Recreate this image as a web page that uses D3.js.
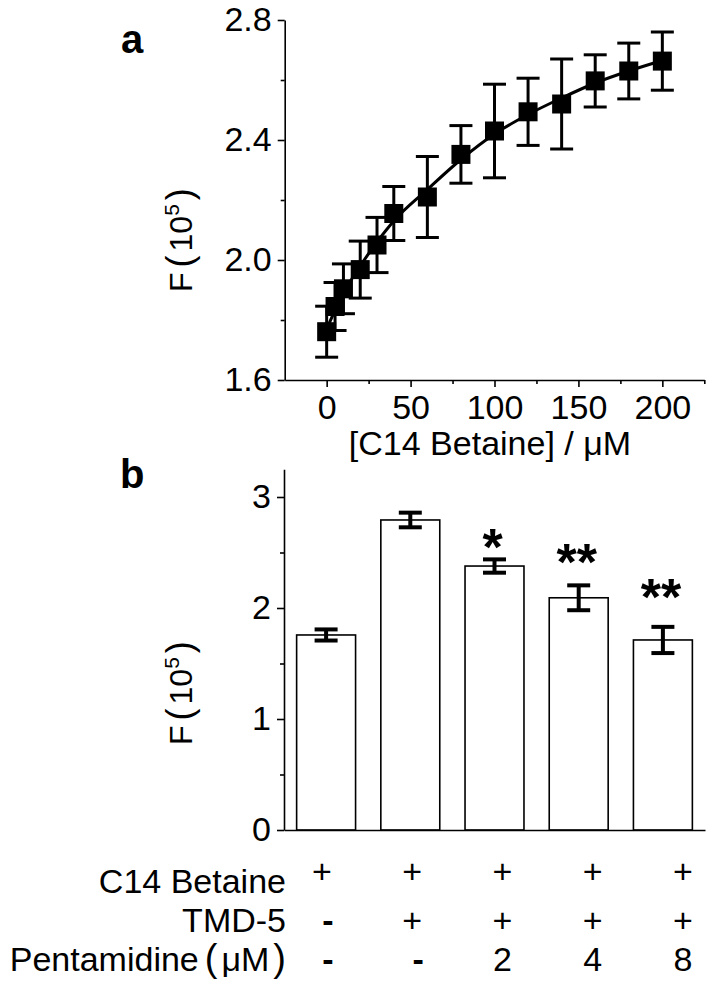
<!DOCTYPE html>
<html>
<head>
<meta charset="utf-8">
<script src="https://cdn.jsdelivr.net/npm/d3@7"></script>
<style>
  html, body { margin: 0; padding: 0; background: #fff; }
  svg { display: block; }
  text { font-family: "Liberation Sans", Arial, sans-serif; fill: #000; }
</style>
</head>
<body>
<svg id="chart" width="713" height="989"></svg>
<script>
// ---------- Panel a data ----------
const concX   = [0, 5, 10, 20, 30, 40, 60, 80, 100, 120, 140, 160, 180, 200];
const concF   = [1.761, 1.845, 1.904, 1.968, 2.05, 2.155, 2.21, 2.352, 2.43, 2.494, 2.52, 2.597, 2.63, 2.663];
const concErr = [0.085, 0.08, 0.083, 0.095, 0.092, 0.09, 0.135, 0.096, 0.156, 0.112, 0.15, 0.087, 0.093, 0.097];
const fitX    = [0, 10, 20, 30, 40, 60, 80, 100, 120, 140, 160, 180, 200];
const fitF    = [1.77, 1.89, 1.98, 2.06, 2.13, 2.235, 2.335, 2.42, 2.485, 2.54, 2.59, 2.63, 2.665];
const aMajorX = [0, 50, 100, 150, 200];
const aMinorX = [25, 75, 125, 175, 225];
const aMajorY = [1.6, 2.0, 2.4, 2.8];
const aMinorY = [1.8, 2.2, 2.6];

// ---------- Panel b data ----------
const groups  = ["G1", "G2", "G3", "G4", "G5"];
const barF    = [1.757, 2.793, 2.378, 2.092, 1.712];
const barErr  = [0.05, 0.066, 0.06, 0.112, 0.118];
const sigMark = ["", "", "*", "**", "**"];
const sigLevel = [null, null, 2.55, 2.414, 2.099];
const bMajorY = [0, 1, 2, 3];
const bMinorY = [0.5, 1.5, 2.5];

// ---------- Condition table ----------
const rowLabels = ["C14 Betaine", "TMD-5", "Pentamidine"];
const rowC14  = ["+", "+", "+", "+", "+"];
const rowTMD  = ["-", "+", "+", "+", "+"];
const rowPent = ["-", "-", "2", "4", "8"];

const svg = d3.select("#chart");
svg.append("rect").attr("width", 713).attr("height", 989).attr("fill", "#fff");

const FS = 34;

function styleAxis(g) {
  g.selectAll(".domain").attr("stroke", "#000").attr("stroke-width", 1.6);
  g.selectAll(".tick line").attr("stroke", "#000").attr("stroke-width", 1.6);
  g.selectAll(".tick text").style("font-size", FS + "px").attr("fill", "#000")
    .style("font-family", "'Liberation Sans', Arial, sans-serif");
}

// ================= Panel a =================
const xA = d3.scaleLinear().domain([-25, 225]).range([284.7, 704.3]);
const yA = d3.scaleLinear().domain([1.6, 2.8]).range([380, 20]);

const ga = svg.append("g");

ga.append("g").attr("transform", "translate(0,380)")
  .call(d3.axisBottom(xA).tickValues(aMinorX).tickSize(4).tickSizeOuter(0).tickFormat(""))
  .call(styleAxis);
ga.append("g").attr("transform", "translate(0,380)")
  .call(d3.axisBottom(xA).tickValues(aMajorX).tickSize(7).tickSizeOuter(0).tickPadding(8).tickFormat(d3.format("d")))
  .call(styleAxis)
  .call(g => g.select(".domain").remove());

ga.append("g").attr("transform", "translate(284.7,0)")
  .call(d3.axisLeft(yA).tickValues(aMinorY).tickSize(4).tickSizeOuter(0).tickFormat(""))
  .call(styleAxis);
ga.append("g").attr("transform", "translate(284.7,0)")
  .call(d3.axisLeft(yA).tickValues(aMajorY).tickSize(7).tickSizeOuter(0).tickPadding(6).tickFormat(d3.format(".1f")))
  .call(styleAxis)
  .call(g => g.select(".domain").remove());

// fit curve
const fitData = fitX.map((x, i) => [x, fitF[i]]);
ga.append("path")
  .datum(fitData)
  .attr("fill", "none").attr("stroke", "#000").attr("stroke-width", 3)
  .attr("d", d3.line().x(d => xA(d[0])).y(d => yA(d[1])).curve(d3.curveMonotoneX));

// error bars
const ptData = concX.map((x, i) => ({ x, y: concF[i], e: concErr[i] }));
const eb = ga.append("g").attr("stroke", "#000").attr("stroke-width", 3);
eb.selectAll("line.stem").data(ptData).join("line")
  .attr("x1", d => xA(d.x)).attr("x2", d => xA(d.x))
  .attr("y1", d => yA(d.y + d.e)).attr("y2", d => yA(d.y - d.e));
eb.selectAll("line.capt").data(ptData).join("line")
  .attr("x1", d => xA(d.x) - 11.5).attr("x2", d => xA(d.x) + 11.5)
  .attr("y1", d => yA(d.y + d.e)).attr("y2", d => yA(d.y + d.e));
eb.selectAll("line.capb").data(ptData).join("line")
  .attr("x1", d => xA(d.x) - 11.5).attr("x2", d => xA(d.x) + 11.5)
  .attr("y1", d => yA(d.y - d.e)).attr("y2", d => yA(d.y - d.e));

// squares
const SQ = 19;
ga.selectAll("rect.pt").data(ptData).join("rect")
  .attr("x", d => xA(d.x) - SQ / 2).attr("y", d => yA(d.y) - SQ / 2)
  .attr("width", SQ).attr("height", SQ).attr("fill", "#000");

// x label
ga.append("text")
  .attr("x", 490).attr("y", 455).attr("text-anchor", "middle")
  .style("font-size", FS + "px")
  .text("[C14 Betaine] / \u03BCM");

// y label
function yLabel(g, x, yBottom) {
  const t = g.append("text")
    .attr("transform", `translate(${x},${yBottom}) rotate(-90)`)
    .attr("text-anchor", "start")
    .style("font-size", "32px");
  t.append("tspan").text("F");
  t.append("tspan").attr("dx", 5).style("font-size", "36px").style("font-weight", "300").text("(");
  t.append("tspan").attr("dx", 4).text("10");
  t.append("tspan").attr("dy", -13).style("font-size", "21px").text("5");
  t.append("tspan").attr("dy", 13).attr("dx", 4).style("font-size", "36px").style("font-weight", "300").text(")");
}
yLabel(ga, 192, 292);

// panel letter
svg.append("text").attr("x", 121).attr("y", 53)
  .style("font-size", "40px").style("font-weight", "bold").text("a");

// ================= Panel b =================
const xB = d3.scaleBand().domain(groups).range([284, 705]).paddingInner(0.3).paddingOuter(0.15);
const yB = d3.scaleLinear().domain([0, 3.25]).range([830, 469.25]);

const gb = svg.append("g");

const barData = groups.map((g, i) => ({ g, v: barF[i], e: barErr[i], s: sigMark[i], sl: sigLevel[i] }));

gb.selectAll("rect.bar").data(barData).join("rect")
  .attr("x", d => xB(d.g)).attr("y", d => yB(d.v))
  .attr("width", xB.bandwidth()).attr("height", d => yB(0) - yB(d.v))
  .attr("fill", "#fff").attr("stroke", "#000").attr("stroke-width", 1.6);

const ebb = gb.append("g").attr("stroke", "#000").attr("stroke-width", 4);
const cx = d => xB(d.g) + xB.bandwidth() / 2;
ebb.selectAll("line.stem").data(barData).join("line")
  .attr("x1", cx).attr("x2", cx)
  .attr("y1", d => yB(d.v + d.e)).attr("y2", d => yB(d.v - d.e));
ebb.selectAll("line.capt").data(barData).join("line")
  .attr("x1", d => cx(d) - 11.5).attr("x2", d => cx(d) + 11.5)
  .attr("y1", d => yB(d.v + d.e)).attr("y2", d => yB(d.v + d.e));
ebb.selectAll("line.capb").data(barData).join("line")
  .attr("x1", d => cx(d) - 11.5).attr("x2", d => cx(d) + 11.5)
  .attr("y1", d => yB(d.v - d.e)).attr("y2", d => yB(d.v - d.e));

gb.selectAll("text.sig").data(barData.filter(d => d.s)).join("text")
  .attr("x", d => cx(d) - 2).attr("y", d => yB(d.sl) + 18)
  .attr("text-anchor", "middle")
  .style("font-size", "52px").style("font-weight", "bold")
  .text(d => d.s);

gb.append("g").attr("transform", "translate(0,830)")
  .call(d3.axisBottom(xB).tickSize(0).tickSizeOuter(0).tickFormat(""))
  .call(styleAxis);
gb.append("g").attr("transform", "translate(284,0)")
  .call(d3.axisLeft(yB).tickValues(bMinorY).tickSize(4).tickSizeOuter(0).tickFormat(""))
  .call(styleAxis);
gb.append("g").attr("transform", "translate(284,0)")
  .call(d3.axisLeft(yB).tickValues(bMajorY).tickSize(7).tickSizeOuter(0).tickPadding(6).tickFormat(d3.format("d")))
  .call(styleAxis)
  .call(g => g.select(".domain").remove());

yLabel(gb, 192, 745);

svg.append("text").attr("x", 120).attr("y", 488)
  .style("font-size", "40px").style("font-weight", "bold").text("b");

// ================= Condition table =================
const colX = d3.scalePoint().domain(groups).range([322, 683]);
const rows = [rowC14, rowTMD, rowPent];
const rowY = d3.scalePoint().domain([0, 1, 2]).range([893, 971]);

rows.forEach((row, r) => {
  const label = svg.append("text")
    .attr("x", 286).attr("y", rowY(r)).attr("text-anchor", "end")
    .style("font-size", FS + "px");
  if (r === 2) {
    label.append("tspan").text(rowLabels[r]);
    label.append("tspan").attr("dx", 6).style("font-size", "38px").style("font-weight", "300").text("(");
    label.append("tspan").attr("dx", 4).text("\u03BCM");
    label.append("tspan").attr("dx", 4).style("font-size", "38px").style("font-weight", "300").text(")");
  } else {
    label.text(rowLabels[r]);
  }
  svg.selectAll(null).data(row.map((s, i) => ({ s, g: groups[i] }))).join("text")
    .attr("x", d => colX(d.g) + (d.s === "-" ? 6 : 0))
    .attr("y", rowY(r) - (r === 0 ? 10 : 0))
    .attr("text-anchor", "middle")
    .style("font-size", FS + "px")
    .style("font-weight", d => d.s === "-" ? "bold" : "normal")
    .text(d => d.s);
});
</script>
</body>
</html>
